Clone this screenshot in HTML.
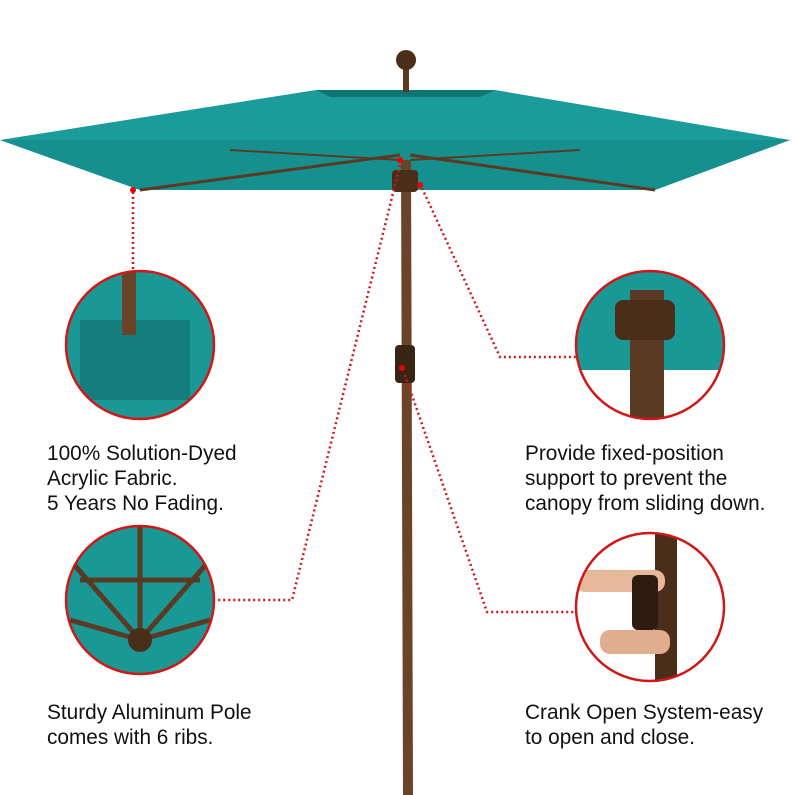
<!DOCTYPE html>
<html><head><meta charset="utf-8"><style>
body{margin:0;background:#fff;width:795px;height:795px;overflow:hidden;font-family:"Liberation Sans",sans-serif}
.t{position:absolute;font-size:20.8px;line-height:25px;color:#111}
</style></head><body>
<svg width="795" height="795" style="position:absolute;left:0;top:0">
<defs>
<clipPath id="c1"><circle cx="140" cy="345" r="74"/></clipPath>
<clipPath id="c2"><circle cx="650" cy="345" r="74"/></clipPath>
<clipPath id="c3"><circle cx="140" cy="600" r="74"/></clipPath>
<clipPath id="c4"><circle cx="650" cy="607" r="74"/></clipPath>
</defs>
<polygon points="316,90 495,90 790,140 655,190 140,190 0,140" fill="#1b9c9a"/>
<polygon points="0,140 790,140 655,190 140,190" fill="#16908e"/>
<polygon points="316,90 495,90 480,97 330,97" fill="#0f7573"/>
<line x1="140" y1="190" x2="400" y2="155" stroke="#5a3a22" stroke-width="3"/>
<line x1="655" y1="190" x2="410" y2="155" stroke="#5a3a22" stroke-width="3"/>
<line x1="230" y1="150" x2="400" y2="160" stroke="#5a3a22" stroke-width="2"/>
<line x1="580" y1="150" x2="410" y2="160" stroke="#5a3a22" stroke-width="2"/>
<rect x="403" y="68" width="6" height="24" fill="#5a3a22"/>
<circle cx="406" cy="60" r="10" fill="#4a2e1a"/>
<polygon points="401,160 411,160 413,795 403,795" fill="#6a4428"/>
<rect x="392" y="170" width="26" height="22" rx="4" fill="#4a2e1a"/>
<rect x="395" y="345" width="20" height="38" rx="4" fill="#3a2414"/>
<circle cx="400" cy="160" r="3" fill="#e00"/>
<circle cx="420" cy="185" r="3" fill="#e00"/>
<circle cx="402" cy="368" r="3" fill="#e00"/>
<circle cx="133" cy="190" r="3" fill="#e00"/>
<g stroke="#d01818" stroke-width="2.5" stroke-dasharray="2 3" fill="none">
<path d="M133,192 V270"/>
<path d="M422,188 L500,357 H576"/>
<path d="M400,165 L292,600 H216"/>
<path d="M405,375 L487,612 H576"/>
</g>
<g clip-path="url(#c1)"><rect x="60" y="265" width="160" height="160" fill="#1a9896"/>
<rect x="80" y="320" width="110" height="80" fill="#137e7c"/><rect x="122" y="265" width="14" height="70" fill="#6a4428"/></g>
<circle cx="140" cy="345" r="74" fill="none" stroke="#d01818" stroke-width="2.5"/>
<g clip-path="url(#c2)"><rect x="570" y="265" width="160" height="160" fill="#fff"/>
<polygon points="570,270 730,270 730,370 570,370" fill="#1a9896"/>
<rect x="630" y="290" width="34" height="140" fill="#5a3a22"/><rect x="615" y="300" width="60" height="40" rx="8" fill="#4a2e1a"/></g>
<circle cx="650" cy="345" r="74" fill="none" stroke="#d01818" stroke-width="2.5"/>
<g clip-path="url(#c3)"><rect x="60" y="520" width="160" height="160" fill="#1a9896"/>
<g stroke="#5a3a22" stroke-width="5"><line x1="140" y1="640" x2="70" y2="560"/><line x1="140" y1="640" x2="210" y2="560"/><line x1="140" y1="640" x2="140" y2="525"/><line x1="140" y1="640" x2="70" y2="620"/><line x1="140" y1="640" x2="210" y2="620"/><line x1="80" y1="580" x2="200" y2="580"/></g>
<circle cx="140" cy="640" r="12" fill="#4a2e1a"/></g>
<circle cx="140" cy="600" r="74" fill="none" stroke="#d01818" stroke-width="2.5"/>
<g clip-path="url(#c4)"><rect x="570" y="530" width="160" height="160" fill="#fff"/>
<rect x="655" y="530" width="22" height="160" fill="#4a2e1a"/>
<rect x="575" y="570" width="90" height="22" rx="10" fill="#e8b89a"/>
<rect x="600" y="630" width="70" height="24" rx="10" fill="#e0ad8e"/>
<rect x="632" y="575" width="26" height="55" rx="6" fill="#2e1c10"/></g>
<circle cx="650" cy="607" r="74" fill="none" stroke="#d01818" stroke-width="2.5"/>
</svg>
<div class="t" style="left:47px;top:441px">100% Solution-Dyed<br>Acrylic Fabric.<br>5 Years No Fading.</div>
<div class="t" style="left:525px;top:441px">Provide fixed-position<br>support to prevent the<br>canopy from sliding down.</div>
<div class="t" style="left:47px;top:700px">Sturdy Aluminum Pole<br>comes with 6 ribs.</div>
<div class="t" style="left:525px;top:700px">Crank Open System-easy<br>to open and close.</div>
</body></html>
